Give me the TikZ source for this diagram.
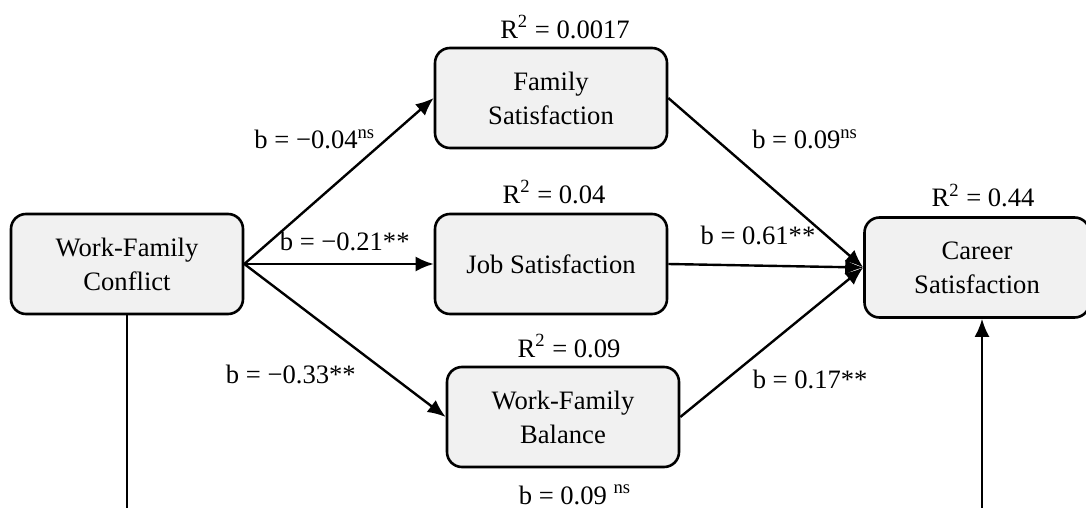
\documentclass[tikz,border=0pt]{standalone}
\usepackage{fontspec}
\setmainfont{Liberation Serif}
\usetikzlibrary{positioning, arrows.meta}
\definecolor{boxgray}{HTML}{F1F1F1}

\begin{document}
\begin{tikzpicture}[x=0.5pt,y=-0.5pt,->,>={Latex[length=9pt,width=7.5pt]},line width=1.2pt,
    font=\fontsize{13.3}{17}\selectfont,
    var node/.style={draw,line width=1.3pt,rounded corners=7.5pt,fill=boxgray,align=center,minimum width=116pt,minimum height=50pt,inner sep=2pt},
    coef/.style={inner sep=2pt}, rsq/.style={inner sep=2pt}]

\clip (0,0) rectangle (1086,508);

\node[var node]                       (wfc)  at (127,264)                              {Work-Family\\Conflict};
\node[var node]                       (js)   [right of = wfc, node distance=212pt]     {Job Satisfaction};
\node[var node]                       (fs)   [above of = js, node distance=83pt]       {Family\\Satisfaction};
\node[var node]                       (wfb)  [below of = js, node distance=76.5pt, xshift=6pt] {Work-Family\\Balance};
\node[var node, minimum width=112.5pt] (cs)  [right of = js, node distance=213pt, yshift=-1.75pt] {Career\\Satisfaction};

% explained variance
\node[rsq] (fsr)  [above of = fs, node distance=35.5pt, xshift=7pt]   {R\textsuperscript{2} = 0.0017};
\node[rsq] (jsr)  [above of = js, node distance=36pt, xshift=1.5pt]   {R\textsuperscript{2} = 0.04};
\node[rsq] (wfbr) [above of = wfb, node distance=35.5pt, xshift=3pt]  {R\textsuperscript{2} = 0.09};
\node[rsq] (csr)  [above of = cs, node distance=36pt, xshift=3pt]     {R\textsuperscript{2} = 0.44};
\node[coef] (direct) [below of = wfb, node distance=39pt, xshift=6pt] {b = 0.09 \textsuperscript{ns}};

\path[]
(wfc.east) edge node[coef, pos=0.75, anchor=east, xshift=-3pt] {b = −0.04\textsuperscript{ns}} (fs.west)
(wfc.east) edge node[coef, pos=0.53, above=4pt] {b = −0.21**} (js.west)
(wfc.east) edge node[coef, pos=0.6, below left=3pt] {b = −0.33**} (wfb.west)
(fs.east)  edge node[coef, pos=0.37, above right=4.7pt] {b = 0.09\textsuperscript{ns}} (cs.west)
(js.east)  edge node[coef, pos=0.46, above=8pt] {b = 0.61**} (cs.west)
(wfb.east) edge node[coef, pos=0.36, below right=1pt] {b = 0.17**} (cs.west);

% direct path, cut at the lower edge
\coordinate (wfcout) at ([yshift=-130pt]wfc.center);
\coordinate (csin)   at ([xshift=2.5pt,yshift=-130pt]cs.center);
\draw[-] (wfc) -- (wfcout);
\draw (csin) -- (csin |- cs.south);
\end{tikzpicture}
\end{document}
